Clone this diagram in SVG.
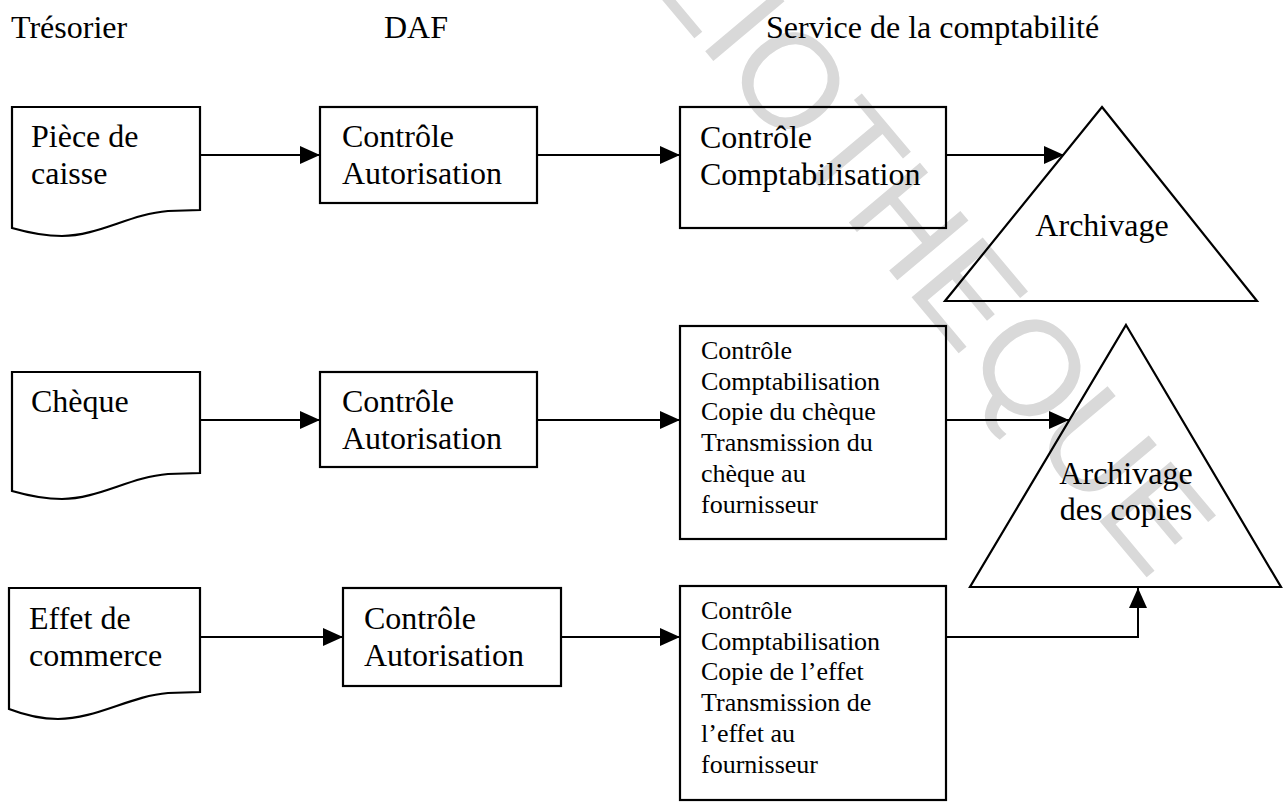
<svg xmlns="http://www.w3.org/2000/svg" width="1284" height="805" viewBox="0 0 1284 805">
  <style>
    .bg { fill: #ffffff; }
    .mark { font-family: "Liberation Sans", Arial, sans-serif; font-size: 135px; fill: #d9d9d9; }
    .hdr { font-family: "Liberation Serif", "Times New Roman", serif; font-size: 32px; fill: #000; }
    .lbl { font-family: "Liberation Serif", "Times New Roman", serif; font-size: 32px; fill: #000; }
    .sm { font-family: "Liberation Serif", "Times New Roman", serif; font-size: 26px; fill: #000; }
    .shape { fill: none; stroke: #000; stroke-width: 2.2; stroke-linejoin: miter; }
    .link { fill: none; stroke: #000; stroke-width: 2; }
  </style>
  <defs>
    <marker id="head" viewBox="0 0 20 18" refX="20" refY="9" markerWidth="20" markerHeight="18" markerUnits="userSpaceOnUse" orient="auto">
      <path d="M0,0 L20,9 L0,18 Z" fill="#000"/>
    </marker>
  </defs>

  <rect class="bg" x="0" y="0" width="1284" height="805"/>

  <!-- library stamp running diagonally behind the chart -->
  <g id="stamp" transform="translate(792,80) rotate(50)">
    <text class="mark" x="-383" y="48">BIBLIOTHEQUE</text>
  </g>

  <!-- column headings -->
  <g id="headings">
    <text class="hdr" x="11" y="38">Trésorier</text>
    <text class="hdr" x="384" y="38">DAF</text>
    <text class="hdr" x="766" y="38">Service de la comptabilité</text>
  </g>

  <!-- row 1 : petty cash voucher -->
  <g id="doc-piece">
    <path class="shape" d="M12,107 H200 V210 L168,211 C130,214 98,236 62,236 C42,236 26,232 12,228 Z"/>
    <text class="lbl" x="31" y="147">Pièce de</text>
    <text class="lbl" x="31" y="184">caisse</text>
  </g>
  <g id="daf-1">
    <rect class="shape" x="320" y="107" width="217" height="96"/>
    <text class="lbl" x="342" y="147">Contrôle</text>
    <text class="lbl" x="342" y="184">Autorisation</text>
  </g>
  <g id="compta-1">
    <rect class="shape" x="680" y="107" width="266" height="121"/>
    <text class="lbl" x="700" y="148">Contrôle</text>
    <text class="lbl" x="700" y="185">Comptabilisation</text>
  </g>
  <g id="archive-1">
    <path class="shape" d="M1102,107 L1257,301 L945,301 Z"/>
    <text class="lbl" x="1102" y="236" text-anchor="middle">Archivage</text>
  </g>

  <!-- row 2 : cheque -->
  <g id="doc-cheque">
    <path class="shape" d="M12,372 H200 V473 L168,474 C130,477 98,499 62,499 C42,499 26,495 12,491 Z"/>
    <text class="lbl" x="31" y="412">Chèque</text>
  </g>
  <g id="daf-2">
    <rect class="shape" x="320" y="372" width="217" height="95"/>
    <text class="lbl" x="342" y="412">Contrôle</text>
    <text class="lbl" x="342" y="449">Autorisation</text>
  </g>
  <g id="compta-2">
    <rect class="shape" x="680" y="326" width="266" height="213"/>
    <text class="sm" x="701" y="359">Contrôle</text>
    <text class="sm" x="701" y="390">Comptabilisation</text>
    <text class="sm" x="701" y="420">Copie du chèque</text>
    <text class="sm" x="701" y="451">Transmission du</text>
    <text class="sm" x="701" y="482">chèque au</text>
    <text class="sm" x="701" y="513">fournisseur</text>
  </g>
  <g id="archive-2">
    <path class="shape" d="M1126,325 L1281,587 L970,587 Z"/>
    <text class="lbl" x="1126" y="484" text-anchor="middle">Archivage</text>
    <text class="lbl" x="1126" y="520" text-anchor="middle">des copies</text>
  </g>

  <!-- row 3 : bill of exchange -->
  <g id="doc-effet">
    <path class="shape" d="M9,588 H200 V692 L168,693 C130,696 96,719 58,719 C38,719 22,714 9,709 Z"/>
    <text class="lbl" x="29" y="629">Effet de</text>
    <text class="lbl" x="29" y="666">commerce</text>
  </g>
  <g id="daf-3">
    <rect class="shape" x="343" y="588" width="218" height="98"/>
    <text class="lbl" x="364" y="629">Contrôle</text>
    <text class="lbl" x="364" y="666">Autorisation</text>
  </g>
  <g id="compta-3">
    <rect class="shape" x="680" y="586" width="266" height="214"/>
    <text class="sm" x="701" y="619">Contrôle</text>
    <text class="sm" x="701" y="650">Comptabilisation</text>
    <text class="sm" x="701" y="680">Copie de l’effet</text>
    <text class="sm" x="701" y="711">Transmission de</text>
    <text class="sm" x="701" y="742">l’effet au</text>
    <text class="sm" x="701" y="773">fournisseur</text>
  </g>

  <!-- flows -->
  <g id="connectors">
    <path class="link" d="M200,155 H320" marker-end="url(#head)"/>
    <path class="link" d="M537,155 H680" marker-end="url(#head)"/>
    <path class="link" d="M946,155 H1064" marker-end="url(#head)"/>
    <path class="link" d="M200,420 H320" marker-end="url(#head)"/>
    <path class="link" d="M537,420 H680" marker-end="url(#head)"/>
    <path class="link" d="M946,420 H1069" marker-end="url(#head)"/>
    <path class="link" d="M200,637 H343" marker-end="url(#head)"/>
    <path class="link" d="M561,637 H680" marker-end="url(#head)"/>
    <path class="link" d="M946,637 H1138 V588" marker-end="url(#head)"/>
  </g>
</svg>
